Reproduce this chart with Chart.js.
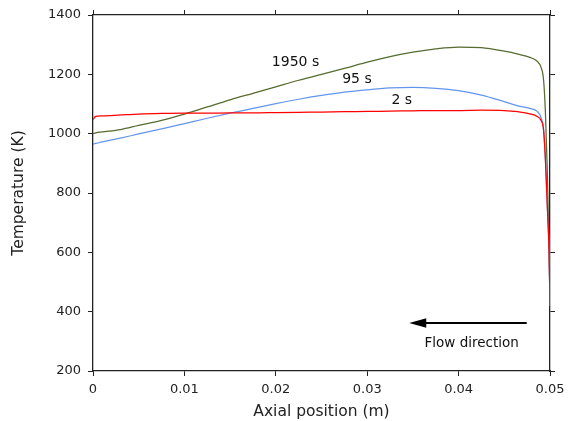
<!DOCTYPE html>
<html>
<head>
<meta charset="utf-8">
<script src="https://cdn.jsdelivr.net/npm/chart.js@4.4.0/dist/chart.umd.min.js"></script>
<style>
    body { margin: 0; background: #fff; }
    #wrap { width: 568px; height: 421px; }
</style>
</head>
<body>
<div id="wrap"><canvas id="chart-temp" width="568" height="421"></canvas></div>
<script>
// axial positions (m) where the profiles were read
const axialPos = [0, 0.0003, 0.001, 0.003, 0.005, 0.0075, 0.01, 0.0125, 0.015, 0.0175,
    0.02, 0.0225, 0.025, 0.0275, 0.03, 0.0325, 0.035, 0.0375, 0.04, 0.0425,
    0.045, 0.0465, 0.0478, 0.0486, 0.049, 0.0493, 0.0495, 0.0497, 0.0499, 0.05];

// temperatures (K) for each time
const temp2s = [1048, 1058, 1060, 1063, 1066, 1068, 1069, 1069, 1070, 1070,
    1071, 1072, 1073, 1074, 1075, 1076, 1077, 1078, 1078, 1079,
    1078, 1074, 1067, 1058, 1046, 1012, 911, 760, 600, 420];
const temp95s = [965, 967, 972, 985, 999, 1016, 1034, 1052, 1069, 1085,
    1101, 1116, 1129, 1140, 1148, 1154, 1156, 1153, 1145, 1130,
    1108, 1094, 1085, 1075, 1056, 1012, 911, 760, 600, 420];
const temp1950s = [1000, 1003, 1006, 1014, 1028, 1045, 1066, 1090, 1114, 1136,
    1158, 1180, 1200, 1220, 1241, 1260, 1275, 1286, 1292, 1290,
    1278, 1268, 1257, 1244, 1225, 1180, 1070, 880, 600, 420];

const seriesNames = ['2 s', '95 s', '1950 s'];
const xTicks = [0, 0.01, 0.02, 0.03, 0.04, 0.05];
const yTicks = [200, 400, 600, 800, 1000, 1200, 1400];

// where the curve labels and the flow arrow sit (data units)
const curveLabels = [
    { text: '1950 s', x: 0.02216, y: 1242 },
    { text: '95 s', x: 0.02888, y: 1184 },
    { text: '2 s', x: 0.03378, y: 1113 }
];
const flowArrow = { fromX: 0.04745, toX: 0.0346, y: 362, text: 'Flow direction', textX: 0.04143, textY: 292 };

const FONT = "'DejaVu Sans', sans-serif";
const INK = '#222';

function toPoints(ys) {
    return axialPos.map((x, i) => ({ x: x, y: ys[i] }));
}

function line(label, ys, color) {
    return {
        label: label,
        data: toPoints(ys),
        borderColor: color,
        backgroundColor: color,
        borderWidth: 1.25,
        pointRadius: 0,
        fill: false,
        cubicInterpolationMode: 'monotone'
    };
}

// the matplotlib-like outward tick marks and box
function axisBase(pos, min, max, step, showLabels) {
    return {
        type: 'linear',
        position: pos,
        min: min,
        max: max,
        afterBuildTicks: (scale) => {
            const list = pos === 'left' || pos === 'right' ? yTicks : xTicks;
            scale.ticks = list.map(v => ({ value: v }));
        },
        ticks: {
            stepSize: step,
            color: INK,
            font: { family: FONT, size: 13 },
            maxRotation: 0,
            padding: pos === 'left' ? 7 : 6,
            callback: (value) => {
                if (!showLabels) return '';
                if (pos === 'bottom') return value === 0 ? '0' : value.toFixed(2);
                return String(value);
            }
        },
        grid: {
            drawOnChartArea: false,
            drawTicks: true,
            tickLength: 5,
            color: INK,
            lineWidth: 1
        },
        border: { display: true, color: INK, width: 1.3 }
    };
}

const xAxis = axisBase('bottom', 0, 0.05, 0.01, true);
xAxis.title = { display: true, text: 'Axial position (m)', color: INK, font: { family: FONT, size: 15.5 }, padding: { top: 0, bottom: 0 } };
xAxis.afterFit = (scale) => {
    scale.height = 50;
    scale.paddingLeft = 0;
    scale.paddingRight = 0;
};

const xTop = axisBase('top', 0, 0.05, 0.01, false);
xTop.afterFit = (scale) => {
    scale.height = 15;
    scale.paddingLeft = 0;
    scale.paddingRight = 0;
};

const yAxis = axisBase('left', 200, 1400, 200, true);
yAxis.title = { display: true, text: 'Temperature (K)', color: INK, font: { family: FONT, size: 15.5 }, padding: { top: 10, bottom: 0 } };
yAxis.afterFit = (scale) => { scale.width = 93; };

const yRight = axisBase('right', 200, 1400, 200, false);
yRight.afterFit = (scale) => { scale.width = 18; };

// draws curve labels and the flow direction arrow
const notes = {
    id: 'notes',
    afterDatasetsDraw(chart) {
        const ctx = chart.ctx;
        const sx = chart.scales.x;
        const sy = chart.scales.y;
        ctx.save();
        ctx.fillStyle = '#111';
        ctx.textAlign = 'center';
        ctx.textBaseline = 'middle';
        ctx.font = '14px ' + FONT;
        curveLabels.forEach(l => {
            ctx.fillText(l.text, sx.getPixelForValue(l.x), sy.getPixelForValue(l.y));
        });

        const x0 = sx.getPixelForValue(flowArrow.fromX);
        const x1 = sx.getPixelForValue(flowArrow.toX);
        const ay = sy.getPixelForValue(flowArrow.y);
        ctx.strokeStyle = '#000';
        ctx.fillStyle = '#000';
        ctx.lineWidth = 2;
        ctx.beginPath();
        ctx.moveTo(x0, ay);
        ctx.lineTo(x1 + 14, ay);
        ctx.stroke();
        ctx.beginPath();
        ctx.moveTo(x1, ay);
        ctx.lineTo(x1 + 17, ay - 4.8);
        ctx.lineTo(x1 + 17, ay + 4.8);
        ctx.closePath();
        ctx.fill();

        ctx.fillStyle = '#111';
        ctx.font = '13.5px ' + FONT;
        ctx.fillText(flowArrow.text, sx.getPixelForValue(flowArrow.textX), sy.getPixelForValue(flowArrow.textY));
        ctx.restore();
    }
};

function createChart(id) {
    const ctx = document.getElementById(id);
    const config = {
        type: 'line',
        data: {
            datasets: [
                line(seriesNames[0], temp2s, '#ff0000'),
                line(seriesNames[1], temp95s, '#6495ed'),
                line(seriesNames[2], temp1950s, '#556b2f')
            ]
        },
        options: {
            responsive: false,
            animation: false,
            layout: { padding: 0 },
            plugins: {
                legend: { display: false },
                tooltip: { enabled: false },
                title: { display: false }
            },
            scales: {
                x: xAxis,
                x2: xTop,
                y: yAxis,
                y2: yRight
            }
        },
        plugins: [notes]
    };
    new Chart(ctx, config);
}

document.addEventListener('DOMContentLoaded', () => {
    createChart('chart-temp');
});
</script>
</body>
</html>
